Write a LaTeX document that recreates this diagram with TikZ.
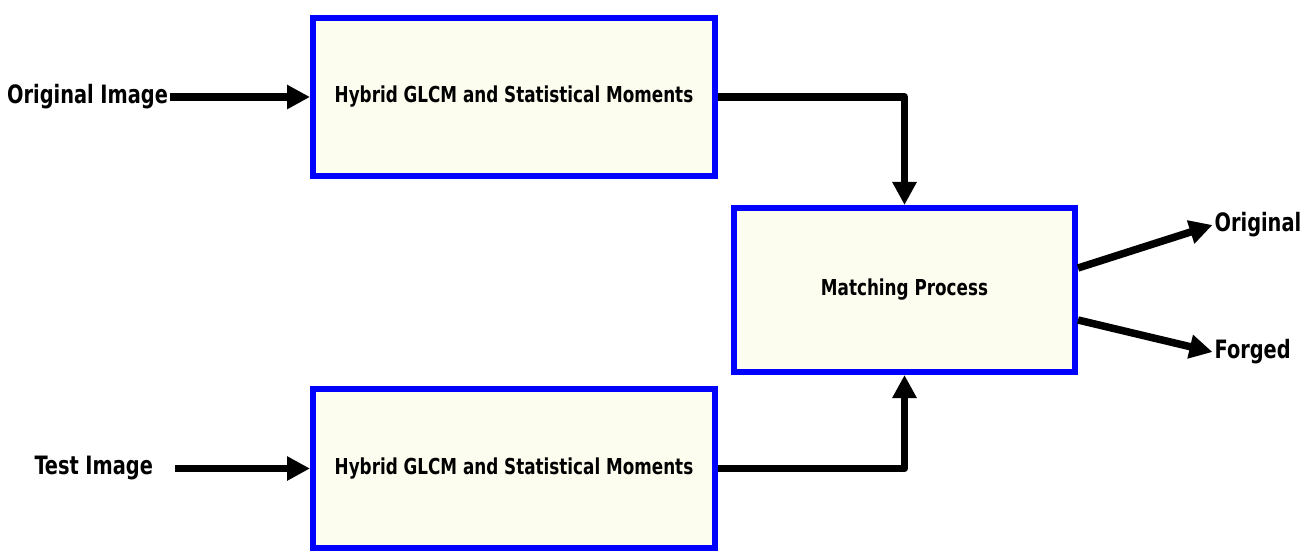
\documentclass[tikz,border=0pt]{standalone}
\usepackage{fontspec}
\setsansfont{DejaVu Sans Condensed}[FakeStretch=0.85]
\usepackage{xcolor}
\usepackage{tikz}
\usetikzlibrary{arrows.meta,positioning,calc}
\definecolor{Ink}{HTML}{000000}
\definecolor{Frame}{HTML}{0000FF}
\definecolor{Cream}{HTML}{FDFDEF}

\begin{document}
\begin{tikzpicture}[>=Latex,font=\sffamily\bfseries]
\tikzset{procbox/.style={draw=Frame,line width=0.12cm,fill=Cream,text=Ink,align=center,font=\sffamily\bfseries\fontsize{12.5}{14}\selectfont},
  iolabel/.style={text=Ink,inner sep=1pt,font=\sffamily\bfseries\fontsize{14.4}{16}\selectfont},
  arrow/.style={-{Triangle[length=0.46cm,width=0.46cm]},line width=0.15cm,Ink,line join=round}}
\useasboundingbox (0,0) rectangle (26.28,11.02);
\node[procbox,minimum width=8.04cm,minimum height=3.16cm] (feat1) at (10.28,9.08) {Hybrid GLCM and Statistical Moments};
\node[procbox,minimum width=8.04cm,minimum height=3.18cm] (feat2) at (10.28,1.65) {Hybrid GLCM and Statistical Moments};
\node[procbox,minimum width=6.82cm,minimum height=3.28cm] (match) at (18.09,5.22) {Matching Process};
\node[iolabel,left=2.8cm of feat1] (orig) {Original Image};
\node[iolabel,left=3.1cm of feat2] (test) {Test Image};
\node[iolabel,anchor=west] (okay) at (24.25,6.52) {Original};
\node[iolabel,anchor=west] (forged) at (24.25,3.98) {Forged};
\draw[arrow] (orig.east) -- (feat1.west);
\draw[arrow,shorten <=0.4cm] (test.east) -- (feat2.west);
\draw[arrow] (feat1.east) -| (match.north);
\draw[arrow] (feat2.east) -| (match.south);
\draw[arrow] ([yshift=0.44cm]match.east) -- (okay.west);
\draw[arrow] ([yshift=-0.6cm]match.east) -- (forged.west);
\end{tikzpicture}
\end{document}
